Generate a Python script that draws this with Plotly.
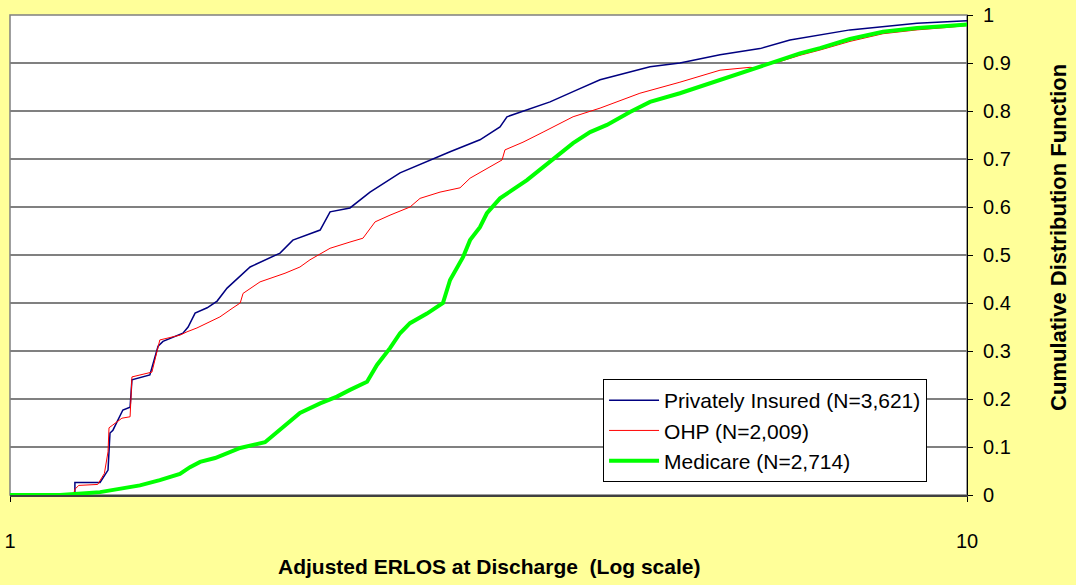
import plotly.graph_objects as go

# Privately Insured (N=3,621)
priv_x = [1.0, 1.169, 1.169, 1.242, 1.266, 1.272, 1.281, 1.312, 1.335, 1.341, 1.400, 1.428, 1.445,
          1.516, 1.535, 1.561, 1.607, 1.646, 1.686, 1.782, 1.915, 1.975, 2.109, 2.160, 2.266, 2.378,
          2.556, 2.747, 2.883, 3.098, 3.251, 3.306, 3.436, 3.667, 3.913, 4.136, 4.664, 5.012, 5.520,
          6.076, 6.531, 7.021, 7.546, 8.868, 9.530, 10.0]
priv_y = [0.0, 0.0, 0.026, 0.026, 0.052, 0.129, 0.135, 0.177, 0.183, 0.240, 0.250, 0.310, 0.320,
          0.337, 0.350, 0.379, 0.390, 0.404, 0.431, 0.475, 0.504, 0.531, 0.552, 0.590, 0.598, 0.631,
          0.671, 0.698, 0.715, 0.740, 0.767, 0.788, 0.800, 0.819, 0.844, 0.865, 0.892, 0.900, 0.917,
          0.930, 0.948, 0.958, 0.969, 0.983, 0.986, 0.988]

# OHP (N=2,009)
ohp_x = [1.0, 1.165, 1.169, 1.180, 1.235, 1.255, 1.266, 1.269, 1.281, 1.309, 1.335, 1.341, 1.407,
         1.428, 1.434, 1.505, 1.531, 1.568, 1.607, 1.657, 1.710, 1.740, 1.752, 1.825, 1.938, 2.009,
         2.058, 2.160, 2.266, 2.338, 2.407, 2.495, 2.618, 2.682, 2.814, 2.953, 3.025, 3.174, 3.267,
         3.290, 3.436, 3.606, 3.876, 4.136, 4.552, 5.012, 5.520, 5.933, 6.005, 6.376, 6.690, 7.021,
         7.546, 8.170, 8.868, 9.530, 10.0]
ohp_y = [0.0, 0.0, 0.012, 0.020, 0.022, 0.045, 0.090, 0.140, 0.146, 0.160, 0.163, 0.246, 0.256,
         0.310, 0.323, 0.333, 0.340, 0.348, 0.358, 0.371, 0.390, 0.400, 0.420, 0.444, 0.462, 0.475,
         0.490, 0.514, 0.527, 0.535, 0.569, 0.583, 0.600, 0.618, 0.631, 0.640, 0.660, 0.683, 0.698,
         0.719, 0.735, 0.756, 0.788, 0.806, 0.837, 0.860, 0.885, 0.891, 0.890, 0.903, 0.916, 0.927,
         0.945, 0.961, 0.969, 0.974, 0.978]

# Medicare (N=2,714)
med_x = [1.0, 1.128, 1.242, 1.272, 1.367, 1.434, 1.505, 1.542, 1.580, 1.638, 1.740, 1.847, 1.929,
         2.009, 2.109, 2.196, 2.266, 2.361, 2.418, 2.495, 2.556, 2.618, 2.727, 2.834, 2.883, 2.975,
         3.025, 3.098, 3.150, 3.251, 3.469, 3.667, 3.876, 4.038, 4.205, 4.445, 4.664, 5.012, 5.520,
         6.076, 6.376, 6.690, 7.021, 7.546, 8.170, 8.868, 9.530, 10.0]
med_y = [0.0, 0.0, 0.006, 0.010, 0.020, 0.031, 0.044, 0.058, 0.069, 0.077, 0.098, 0.110, 0.142,
         0.171, 0.191, 0.205, 0.219, 0.236, 0.271, 0.306, 0.337, 0.358, 0.378, 0.400, 0.448, 0.496,
         0.531, 0.558, 0.587, 0.618, 0.656, 0.694, 0.733, 0.756, 0.771, 0.798, 0.819, 0.837, 0.865,
         0.892, 0.906, 0.920, 0.931, 0.950, 0.965, 0.973, 0.977, 0.980]

y_ticks = [0, 0.1, 0.2, 0.3, 0.4, 0.5, 0.6, 0.7, 0.8, 0.9, 1]
y_labels = ["0", "0.1", "0.2", "0.3", "0.4", "0.5", "0.6", "0.7", "0.8", "0.9", "1"]

fig = go.Figure()
fig.add_trace(go.Scatter(x=priv_x, y=priv_y, mode="lines", name="Privately Insured (N=3,621)",
                         line=dict(color="#000080", width=1.5)))
fig.add_trace(go.Scatter(x=ohp_x, y=ohp_y, mode="lines", name="OHP (N=2,009)",
                         line=dict(color="#FF0000", width=1)))
fig.add_trace(go.Scatter(x=med_x, y=med_y, mode="lines", name="Medicare (N=2,714)",
                         line=dict(color="#00FF00", width=4)))

fig.update_layout(
    width=1076, height=585,
    margin=dict(l=10, r=109, t=15, b=90, autoexpand=False),
    paper_bgcolor="#FFFF99",
    plot_bgcolor="white",
    font=dict(family="Liberation Sans, Arial", size=20, color="black"),
    showlegend=True,
    legend=dict(x=0.6197, y=0.2417, xanchor="left", yanchor="top",
                bgcolor="white", bordercolor="black", borderwidth=1,
                font=dict(size=21), tracegroupgap=0, itemwidth=50),
    shapes=[dict(type="rect", xref="paper", yref="paper", x0=0, x1=1, y0=0, y1=1,
                 line=dict(color="#808080", width=1.5), layer="below")],
)
fig.update_xaxes(type="log", range=[0, 1], tickvals=[1, 10], ticktext=["1", "10"],
                 showgrid=False, zeroline=False, showline=True, linecolor="#404040", linewidth=2,
                 ticks="outside", ticklen=5, tickcolor="black", ticklabelstandoff=22,
                 ticklabeloverflow="allow", automargin=False)
fig.update_yaxes(side="right", range=[0, 1], tickvals=y_ticks, ticktext=y_labels,
                 showgrid=True, gridcolor="#808080", gridwidth=1.5, zeroline=False,
                 showline=True, linecolor="black", linewidth=1,
                 ticks="outside", ticklen=5, tickcolor="black", ticklabelstandoff=6,
                 ticklabeloverflow="allow", automargin=False)

fig.add_annotation(text="<b>Adjusted ERLOS at Discharge  (Log scale)</b>", xref="paper", yref="paper",
                   x=0.5, y=-0.148, xanchor="center", yanchor="middle", showarrow=False,
                   font=dict(size=21))
fig.add_annotation(text="<b>Cumulative Distribution Function</b>", xref="paper", yref="paper",
                   x=1.095, y=0.5375, xanchor="center", yanchor="middle", showarrow=False,
                   textangle=-90, font=dict(size=22))

# drop the browser's default 8px body margin so the figure sits at the window corner
fig.write_html("out.html", config={"displayModeBar": False},
               post_script="document.body.style.margin = '0px';")
